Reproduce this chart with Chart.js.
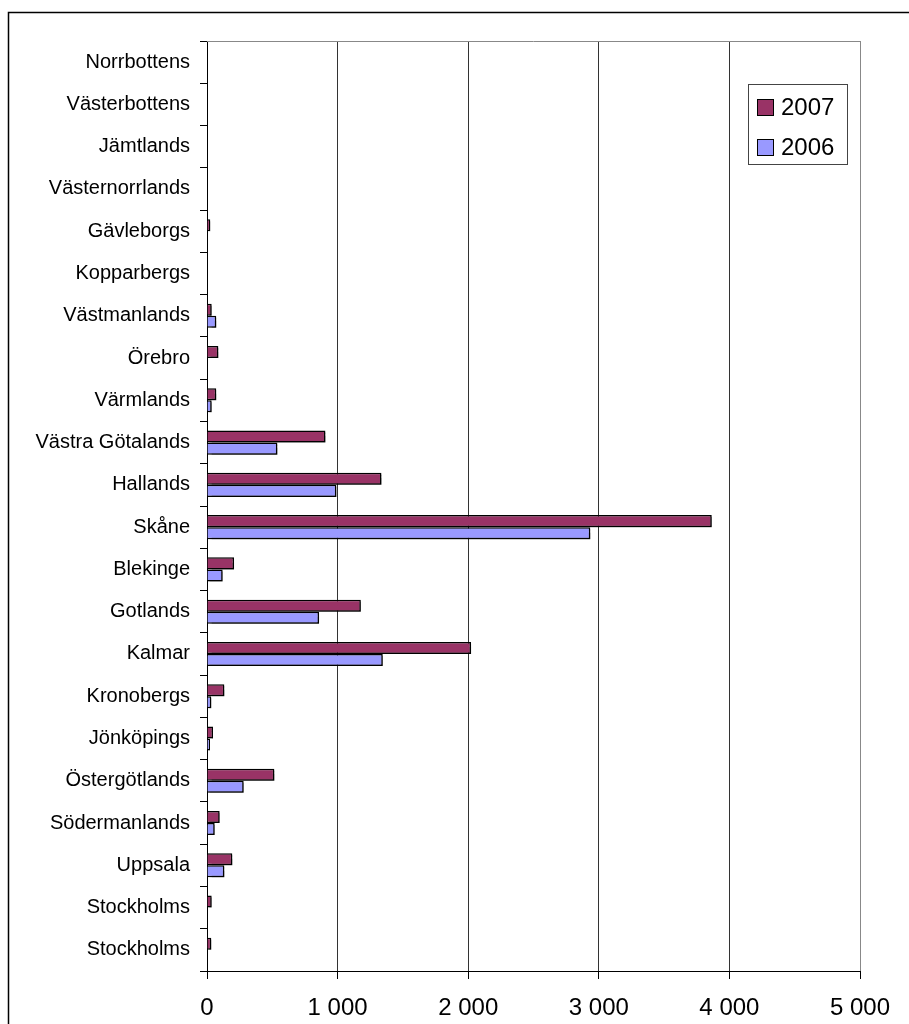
<!DOCTYPE html>
<html>
<head>
<meta charset="utf-8">
<script src="https://cdn.jsdelivr.net/npm/chart.js@4/dist/chart.umd.min.js"></script>
<style>
  html, body { margin: 0; padding: 0; background: #fff; }
  canvas { display: block; }
</style>
</head>
<body>
<canvas id="c" width="909" height="1024"></canvas>
<script>
// Län, listed top to bottom
const categories = [
  'Norrbottens', 'Västerbottens', 'Jämtlands', 'Västernorrlands', 'Gävleborgs',
  'Kopparbergs', 'Västmanlands', 'Örebro', 'Värmlands', 'Västra Götalands',
  'Hallands', 'Skåne', 'Blekinge', 'Gotlands', 'Kalmar', 'Kronobergs',
  'Jönköpings', 'Östergötlands', 'Södermanlands', 'Uppsala', 'Stockholms', 'Stockholms'
];
const values2007 = [0, 0, 0, 0, 25, 0, 36, 87, 71, 907, 1336, 3865, 207, 1178, 2022, 133, 46, 516, 97, 194, 36, 33];
const values2006 = [0, 0, 0, 0, 0, 0, 71, 0, 36, 539, 991, 2935, 120, 858, 1346, 33, 23, 281, 59, 133, 0, 0];
const seriesLabels = ['2007', '2006'];
const xTicks = [0, 1000, 2000, 3000, 4000, 5000];

const FONT = '"Liberation Sans", Arial, sans-serif';
const fmt = v => String(v).replace(/\B(?=(\d{3})+(?!\d))/g, ' ');

// Outer frame, plot top edge and legend box
const decor = {
  id: 'decor',
  beforeDraw(chart) {
    const ctx = chart.ctx;
    ctx.save();
    ctx.fillStyle = '#fff';
    ctx.fillRect(0, 0, chart.width, chart.height);
    ctx.restore();
  },
  beforeDatasetsDraw(chart) {
    const ctx = chart.ctx;
    ctx.save();
    ctx.shadowColor = 'rgba(0,0,0,0.45)';
    ctx.shadowOffsetX = 2;
    ctx.shadowOffsetY = 2;
    ctx.shadowBlur = 1;
  },
  afterDatasetsDraw(chart) {
    chart.ctx.restore();
  },
  afterDraw(chart) {
    const ctx = chart.ctx;
    const a = chart.chartArea;
    ctx.save();
    // top edge of plot area
    ctx.strokeStyle = '#888';
    ctx.lineWidth = 1;
    ctx.beginPath();
    ctx.moveTo(a.left, Math.round(a.top) + 0.5);
    ctx.lineTo(a.right, Math.round(a.top) + 0.5);
    ctx.stroke();
    // outer chart frame
    ctx.strokeStyle = '#000';
    ctx.lineWidth = 1.5;
    ctx.strokeRect(8.5, 12.5, 1000, 1100);
    // legend
    const lx = 748, ly = 84, lw = 99, lh = 80;
    ctx.strokeStyle = '#444';
    ctx.lineWidth = 1;
    ctx.fillStyle = '#fff';
    ctx.fillRect(lx, ly, lw, lh);
    ctx.strokeRect(lx + 0.5, ly + 0.5, lw, lh);
    chart.data.datasets.forEach((ds, i) => {
      const sy = 99 + i * 40;
      ctx.fillStyle = ds.backgroundColor;
      ctx.fillRect(757, sy, 16, 16);
      ctx.strokeStyle = '#000';
      ctx.strokeRect(757.5, sy + 0.5, 16, 16);
      ctx.fillStyle = '#000';
      ctx.font = '24px ' + FONT;
      ctx.textBaseline = 'middle';
      ctx.textAlign = 'left';
      ctx.fillText(ds.label, 781, sy + 9);
    });
    ctx.restore();
  }
};

new Chart(document.getElementById('c'), {
  type: 'bar',
  data: {
    labels: categories,
    datasets: [
      { label: seriesLabels[0], data: values2007, backgroundColor: '#993366', borderColor: '#000', borderWidth: 1.5 },
      { label: seriesLabels[1], data: values2006, backgroundColor: '#9999FF', borderColor: '#000', borderWidth: 1.5 }
    ]
  },
  options: {
    indexAxis: 'y',
    responsive: false,
    animation: false,
    devicePixelRatio: 1,
    categoryPercentage: 0.57,
    barPercentage: 1,
    layout: { padding: { top: 41, right: 49, left: 0, bottom: 0 } },
    plugins: { legend: { display: false }, tooltip: { enabled: false } },
    scales: {
      x: {
        min: 0, max: 5000,
        afterBuildTicks(scale) { scale.ticks = xTicks.map(v => ({ value: v })); },
        afterFit(scale) { scale.height = 53; },
        ticks: {
          color: '#000',
          font: { family: FONT, size: 24 },
          padding: 15,
          maxRotation: 0,
          callback: v => fmt(v)
        },
        grid: {
          color: c => (c.tick && c.tick.value === 5000 ? '#888' : '#333'),
          lineWidth: 1,
          drawTicks: true,
          tickLength: 8,
          tickColor: '#000'
        },
        border: { color: '#000', width: 1 }
      },
      y: {
        afterFit(scale) { scale.width = 207; },
        ticks: {
          color: '#000',
          font: { family: FONT, size: 20 },
          padding: 10,
          autoSkip: false
        },
        grid: {
          offset: true,
          drawOnChartArea: false,
          drawTicks: true,
          tickLength: 7,
          tickColor: '#000'
        },
        border: { color: '#000', width: 1 }
      }
    }
  },
  plugins: [decor]
});
</script>
</body>
</html>
